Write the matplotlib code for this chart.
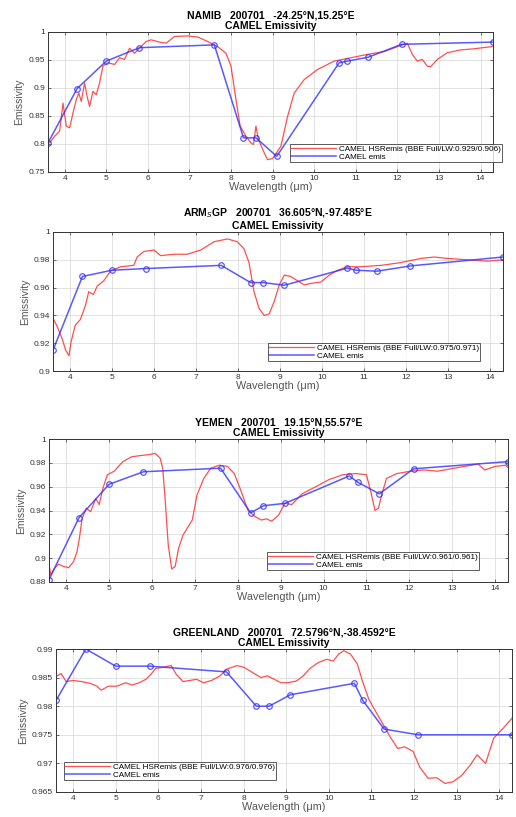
import numpy as np
import matplotlib
matplotlib.use("Agg")
import matplotlib.pyplot as plt
from matplotlib.ticker import FuncFormatter, MultipleLocator

plt.rcParams["font.family"] = ["Liberation Sans", "DejaVu Sans"]

# CAMEL hinge points (um)
hinge_wl = [3.6, 4.3, 5.0, 5.8, 7.6, 8.3, 8.6, 9.1, 10.6, 10.8, 11.3, 12.1, 14.3]

# NAMIB
namib_emis = [0.802, 0.899, 0.948, 0.972, 0.977, 0.811, 0.811, 0.778, 0.945, 0.948, 0.955, 0.978, 0.982]
namib_hsr_wl = [3.64, 3.76, 3.88, 3.96, 4.04, 4.12, 4.2, 4.28, 4.34, 4.4, 4.48, 4.54, 4.6, 4.68,
                4.76, 4.84, 4.92, 5.04, 5.2, 5.32, 5.44, 5.56, 5.68, 5.84, 5.96, 6.08, 6.28, 6.44,
                6.64, 6.96, 7.2, 7.44, 7.68, 7.88, 8.0, 8.12, 8.22, 8.36, 8.48, 8.54, 8.6, 8.66,
                8.8, 8.88, 9.0, 9.2, 9.36, 9.52, 9.76, 10.08, 10.48, 10.88, 11.28, 11.68, 12.08,
                12.24, 12.36, 12.48, 12.6, 12.72, 12.8, 12.96, 13.2, 13.52, 13.84, 14.28]
namib_hsr = [0.802, 0.814, 0.823, 0.873, 0.832, 0.829, 0.855, 0.879, 0.891, 0.876, 0.909, 0.885,
             0.867, 0.894, 0.888, 0.909, 0.939, 0.945, 0.942, 0.954, 0.951, 0.971, 0.962, 0.974,
             0.983, 0.986, 0.982, 0.980, 0.992, 0.993, 0.991, 0.983, 0.974, 0.962, 0.939, 0.879,
             0.832, 0.814, 0.802, 0.799, 0.832, 0.808, 0.784, 0.772, 0.774, 0.796, 0.849, 0.891,
             0.915, 0.933, 0.948, 0.954, 0.960, 0.965, 0.976, 0.980, 0.960, 0.948, 0.951, 0.939,
             0.938, 0.951, 0.963, 0.968, 0.970, 0.974]

# ARM SGP
arm_emis = [0.915, 0.968, 0.9725, 0.9737, 0.976, 0.9636, 0.9636, 0.9617, 0.974, 0.9725, 0.9718, 0.9756, 0.982]
arm_hsr_wl = [3.6, 3.7, 3.82, 3.9, 3.98, 4.03, 4.13, 4.25, 4.37, 4.45, 4.56, 4.65, 4.81, 4.97,
              5.21, 5.52, 5.6, 5.76, 6.0, 6.16, 6.48, 6.79, 7.11, 7.43, 7.75, 7.98, 8.14, 8.26,
              8.38, 8.5, 8.62, 8.74, 8.86, 8.98, 9.1, 9.25, 9.41, 9.57, 9.73, 9.97, 10.17, 10.37,
              10.6, 10.92, 11.4, 11.87, 12.35, 12.67, 12.98, 13.46, 13.94, 14.29]
arm_hsr = [0.938, 0.932, 0.923, 0.915, 0.911, 0.921, 0.933, 0.937, 0.947, 0.957, 0.955, 0.961,
           0.965, 0.972, 0.975, 0.976, 0.982, 0.986, 0.987, 0.983, 0.984, 0.984, 0.987, 0.993,
           0.995, 0.993, 0.988, 0.978, 0.957, 0.945, 0.940, 0.941, 0.950, 0.962, 0.969, 0.968,
           0.965, 0.962, 0.963, 0.964, 0.969, 0.9725, 0.975, 0.975, 0.976, 0.978, 0.981, 0.982,
           0.981, 0.980, 0.979, 0.980]

# YEMEN
yemen_emis = [0.882, 0.934, 0.962, 0.9725, 0.9755, 0.938, 0.944, 0.946, 0.969, 0.9637, 0.954, 0.975, 0.981]
yemen_hsr_wl = [3.6, 3.64, 3.72, 3.82, 3.94, 4.06, 4.17, 4.25, 4.31, 4.37, 4.47, 4.57, 4.69, 4.77,
                4.86, 4.96, 5.12, 5.32, 5.52, 5.71, 5.95, 6.07, 6.19, 6.25, 6.3, 6.38, 6.46, 6.54,
                6.62, 6.72, 6.82, 6.94, 7.05, 7.21, 7.37, 7.57, 7.76, 7.92, 8.08, 8.24, 8.4, 8.55,
                8.67, 8.79, 8.95, 9.1, 9.26, 9.5, 9.82, 10.13, 10.45, 10.76, 11.0, 11.12, 11.2,
                11.28, 11.36, 11.47, 11.71, 12.03, 12.34, 12.66, 12.97, 13.29, 13.6, 13.76, 14.0,
                14.24, 14.3]
yemen_hsr = [0.895, 0.886, 0.891, 0.895, 0.893, 0.892, 0.897, 0.905, 0.917, 0.933, 0.942, 0.939,
             0.950, 0.945, 0.959, 0.970, 0.973, 0.981, 0.985, 0.986, 0.987, 0.988, 0.984, 0.9755,
             0.953, 0.911, 0.891, 0.893, 0.908, 0.919, 0.925, 0.932, 0.953, 0.967, 0.9755, 0.978,
             0.977, 0.971, 0.956, 0.940, 0.935, 0.932, 0.933, 0.931, 0.936, 0.946, 0.945, 0.954,
             0.960, 0.966, 0.970, 0.971, 0.970, 0.953, 0.940, 0.942, 0.954, 0.967, 0.971, 0.973,
             0.974, 0.973, 0.975, 0.977, 0.979, 0.974, 0.977, 0.978, 0.976]

# GREENLAND
green_emis = [0.981, 0.990, 0.987, 0.987, 0.986, 0.980, 0.980, 0.982, 0.984, 0.981, 0.976, 0.975, 0.975]
green_hsr_wl = [3.63, 3.72, 3.84, 4.0, 4.2, 4.4, 4.56, 4.66, 4.83, 5.03, 5.23, 5.39, 5.55, 5.71,
                5.83, 5.94, 6.1, 6.3, 6.42, 6.58, 6.74, 6.9, 7.06, 7.25, 7.45, 7.61, 7.85, 8.01,
                8.21, 8.41, 8.56, 8.72, 8.88, 9.04, 9.24, 9.4, 9.56, 9.75, 9.95, 10.11, 10.23,
                10.35, 10.51, 10.67, 10.79, 10.94, 11.1, 11.3, 11.46, 11.62, 11.78, 11.98, 12.13,
                12.33, 12.53, 12.73, 12.92, 13.12, 13.32, 13.48, 13.68, 13.87, 14.1, 14.3]
green_hsr = [0.9853, 0.9857, 0.9843, 0.9845, 0.9843, 0.984, 0.9835, 0.9828, 0.9835, 0.9835,
             0.9841, 0.9837, 0.9841, 0.9847, 0.9856, 0.9866, 0.9868, 0.9871, 0.9856, 0.9843,
             0.9845, 0.9847, 0.9841, 0.9845, 0.9853, 0.9865, 0.9871, 0.9868, 0.9859, 0.985,
             0.9853, 0.9847, 0.9841, 0.9841, 0.9844, 0.9853, 0.9866, 0.9876, 0.9882, 0.9879,
             0.9891, 0.9897, 0.9891, 0.9874, 0.9844, 0.9812, 0.9791, 0.9765, 0.9744, 0.9726,
             0.9729, 0.9721, 0.9694, 0.9674, 0.9675, 0.9665, 0.9668, 0.9679, 0.9697, 0.9715,
             0.97, 0.9744, 0.9762, 0.9779]

panels = [
    dict(title="NAMIB   200701   -24.25°N,15.25°E", emis=namib_emis, wl=namib_hsr_wl, hsr=namib_hsr,
         bbe="0.929/0.906", ylim=(0.75, 1.0), ystep=0.05,
         rect=[48, 32, 493, 172], leg=[290, 144, 516, 164]),
    dict(title="ARM$_S$GP   200701   36.605°N,-97.485°E", emis=arm_emis, wl=arm_hsr_wl, hsr=arm_hsr,
         bbe="0.975/0.971", ylim=(0.9, 1.0), ystep=0.02,
         rect=[53, 232, 503, 371], leg=[268, 343, 494, 363]),
    dict(title="YEMEN   200701   19.15°N,55.57°E", emis=yemen_emis, wl=yemen_hsr_wl, hsr=yemen_hsr,
         bbe="0.961/0.961", ylim=(0.88, 1.0), ystep=0.02,
         rect=[49, 439, 508, 582], leg=[267, 552, 497, 573]),
    dict(title="GREENLAND   200701   72.5796°N,-38.4592°E", emis=green_emis, wl=green_hsr_wl, hsr=green_hsr,
         bbe="0.976/0.976", ylim=(0.965, 0.99), ystep=0.005,
         rect=[56, 649, 512, 792], leg=[64, 762, 293, 783]),
]

W, H = 516, 817
fig = plt.figure(figsize=(W / 100, H / 100), dpi=100)

fmt = FuncFormatter(lambda v, p: "%g" % round(v, 4))

for p in panels:
    l, t, r, b = p["rect"]
    ax = fig.add_axes([l / W, 1 - b / H, (r - l) / W, (b - t) / H])
    ax.plot(p["wl"], p["hsr"], color="#ff3030", lw=0.9, alpha=0.85,
            label="CAMEL HSRemis (BBE Full/LW:%s)" % p["bbe"])
    ax.plot(hinge_wl, p["emis"], color="#3030ff", lw=1.1, alpha=0.8, marker="o",
            ms=4, mfc="none", mew=0.9, label="CAMEL emis")
    ax.set_xlim(3.6, 14.3)
    ax.set_ylim(*p["ylim"])
    ax.xaxis.set_major_locator(MultipleLocator(1))
    ax.yaxis.set_major_locator(MultipleLocator(p["ystep"]))
    ax.yaxis.set_major_formatter(fmt)
    ax.grid(True, color="#dddddd", lw=0.6)
    ax.tick_params(direction="in", labelsize=6, length=2, width=0.5, colors="#333333",
                   top=True, right=True, pad=2)
    for s in ax.spines.values():
        s.set_linewidth(0.7)
        s.set_color("#333333")
    ax.set_title(p["title"] + "\nCAMEL Emissivity", fontsize=7.5, fontweight="bold",
                 linespacing=1.15, pad=2)
    ax.set_xlabel("Wavelength (\u03bcm)", fontsize=7.8, color="#555555", labelpad=0)
    ax.set_ylabel("Emissivity", fontsize=7.5, color="#555555", labelpad=3)
    ll, lt, lr, lb = p["leg"]
    leg = ax.legend(loc="upper left", bbox_to_anchor=(ll / W, 1 - lt / H), bbox_transform=fig.transFigure,
                    fontsize=5.9, frameon=True, fancybox=False, borderpad=0.15, labelspacing=0.0,
                    handlelength=5.5, handletextpad=0.3, borderaxespad=0)
    leg.get_frame().set_edgecolor("#333333")
    leg.get_frame().set_linewidth(0.7)
    for h in leg.get_lines():
        h.set_marker("")

fig.savefig("out.png", dpi=100)
